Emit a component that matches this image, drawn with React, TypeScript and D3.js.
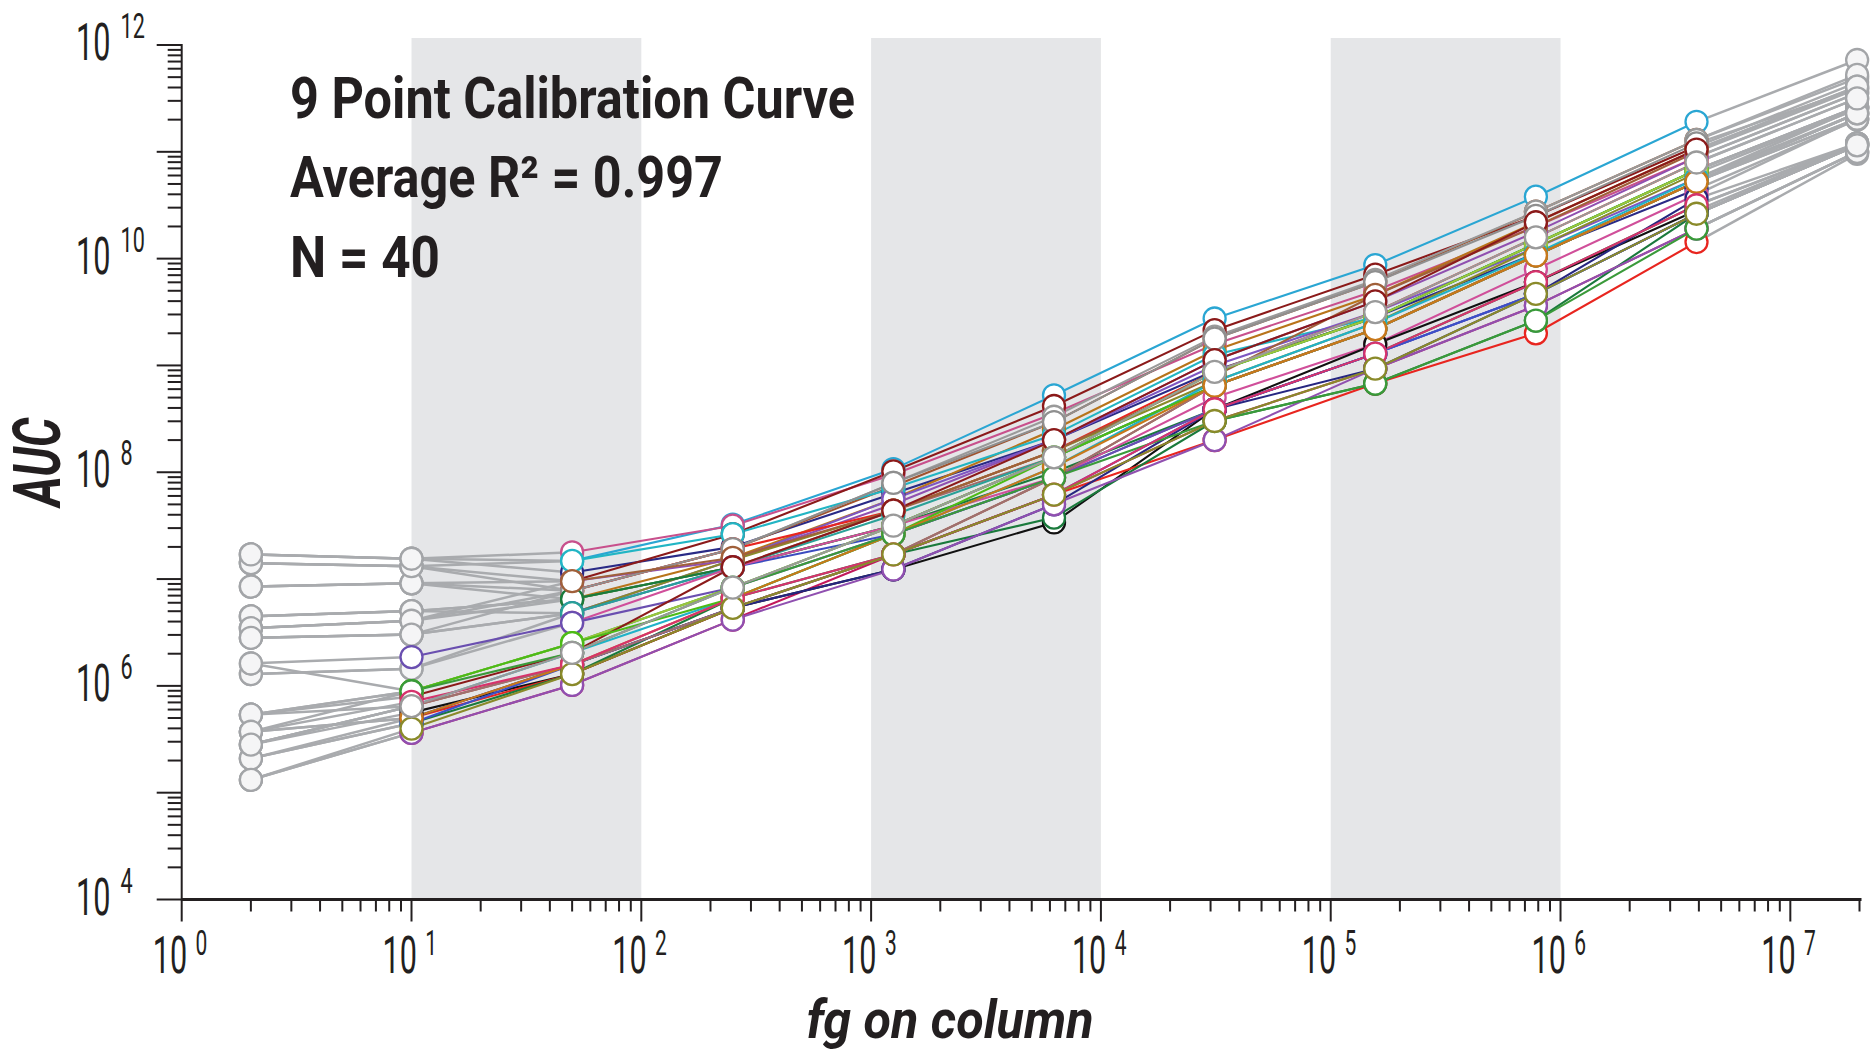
import React from 'react';
import * as d3 from 'd3';

// Concentrations (fg on column) of the 11 dilution points
const fgOnColumn = [2, 10, 50, 250, 1250, 6250, 31250, 156250, 781250, 3906250, 19531250];

// Index of the last point used in the calibration (coloured); later points are grey
const lastCalibrationIndex = 9;

// Peptides with a high background: first two points grey, calibrated from 50 fg
const highBackgroundSeries: number[][] = [
  [1.41e7, 1.32e7, 1.48e7, 3.24e7, 1.07e8, 5.25e8, 2.75e9, 8.71e9, 3.80e10, 1.91e11, 7.24e11],
  [1.70e7, 1.55e7, 1.78e7, 3.16e7, 9.55e7, 3.55e8, 1.58e9, 5.01e9, 2.0e10, 8.91e10, 3.55e11],
  [1.70e7, 1.55e7, 1.15e7, 2.0e7, 6.31e7, 2.0e8, 8.91e8, 2.82e9, 1.12e10, 4.47e10, 2.0e11],
  [8.51e6, 9.12e6, 9.55e6, 2.63e7, 1.02e8, 4.17e8, 2.14e9, 7.08e9, 2.51e10, 1.12e11, 4.47e11],
  [8.51e6, 9.12e6, 7.76e6, 1.91e7, 7.41e7, 2.95e8, 1.78e9, 6.03e9, 2.75e10, 1.29e11, 4.90e11],
  [1.41e7, 1.32e7, 7.76e6, 1.91e7, 7.94e7, 3.31e8, 1.86e9, 6.31e9, 2.75e10, 1.29e11, 5.25e11],
  [8.51e6, 9.12e6, 6.46e6, 1.58e7, 5.62e7, 2.51e8, 1.38e9, 4.57e9, 2.19e10, 1.05e11, 4.07e11],
  [1.41e7, 1.32e7, 9.55e6, 1.51e7, 5.01e7, 2.0e8, 1.12e9, 3.98e9, 1.78e10, 8.91e10, 3.55e11],
  [1.70e7, 1.55e7, 1.48e7, 2.63e7, 7.08e7, 2.24e8, 1.26e9, 2.82e9, 1.38e10, 6.76e10, 2.63e11],
  [4.47e6, 5.01e6, 6.46e6, 1.29e7, 4.37e7, 1.38e8, 6.46e8, 2.19e9, 1.07e10, 5.25e10, 2.29e11],
  [4.47e6, 5.01e6, 4.79e6, 1.51e7, 5.62e7, 2.0e8, 1.0e9, 3.16e9, 1.26e10, 5.62e10, 2.57e11],
  [3.47e6, 4.07e6, 7.76e6, 1.91e7, 4.37e7, 1.58e8, 8.71e8, 3.16e9, 1.58e10, 7.94e10, 3.16e11],
  [3.47e6, 4.07e6, 6.46e6, 1.29e7, 3.16e7, 1.38e8, 8.71e8, 2.82e9, 1.38e10, 6.76e10, 2.63e11],
  [2.82e6, 3.02e6, 4.79e6, 1.51e7, 4.37e7, 1.58e8, 7.08e8, 2.51e9, 1.26e10, 6.31e10, 2.51e11],
  [2.82e6, 3.02e6, 7.76e6, 1.91e7, 7.94e7, 2.95e8, 1.78e9, 6.03e9, 2.51e10, 1.20e11, 3.89e11],
  [4.47e6, 5.01e6, 6.46e6, 1.29e7, 3.16e7, 1.0e8, 3.89e8, 1.29e9, 6.03e9, 3.16e10, 1.20e11],
  [3.47e6, 4.07e6, 9.55e6, 1.58e7, 4.37e7, 1.58e8, 7.94e8, 4.57e9, 2.0e10, 1.0e11, 3.89e11],
  [2.82e6, 3.02e6, 4.79e6, 1.29e7, 2.63e7, 8.91e7, 3.89e8, 1.29e9, 4.68e9, 2.63e10, 1.15e11],
  [1.29e6, 1.45e6, 4.79e6, 1.29e7, 3.98e7, 1.38e8, 6.46e8, 2.19e9, 1.07e10, 5.25e10, 2.29e11],
  [1.29e6, 1.45e6, 3.89e6, 1.29e7, 3.16e7, 8.91e7, 5.01e8, 1.58e9, 7.94e9, 3.98e10, 2.04e11],
];
const highBackgroundColors = [
  '#2aa6d3', '#c8508c', '#2a2a86', '#8b1a1a', '#a0522d', '#9a9a9a', '#b8741a', '#9050b0',
  '#22b5c4', '#a06a6a', '#7e57c2', '#e8251f', '#2ca02c', '#8a8a2a', '#8f8f8f', '#1a7a3c',
  '#a0603a', '#3b4cc0', '#2aa198', '#d04f9a',
];

// Peptides with a low background: only the first point grey, calibrated from 10 fg
const lowBackgroundSeries: number[][] = [
  [1.62e6, 1.86e6, 3.89e6, 8.32e6, 2.63e7, 8.91e7, 3.89e8, 1.29e9, 4.68e9, 2.63e10, 1.15e11],
  [1.62e6, 8.91e5, 2.51e6, 8.32e6, 3.16e7, 1.38e8, 8.71e8, 2.82e9, 1.38e10, 6.76e10, 2.63e11],
  [5.37e5, 6.46e5, 1.58e6, 5.37e6, 1.70e7, 8.91e7, 6.46e8, 2.19e9, 1.07e10, 5.25e10, 2.04e11],
  [1.32e5, 3.63e5, 1.02e6, 4.17e6, 1.70e7, 6.17e7, 3.02e8, 9.33e8, 3.63e9, 1.91e10, 1.0e11],
  [2.82e5, 5.62e5, 1.29e6, 5.37e6, 1.23e7, 3.39e7, 3.89e8, 1.58e9, 6.03e9, 2.82e10, 1.20e11],
  [3.72e5, 5.01e5, 1.29e6, 5.37e6, 1.70e7, 6.17e7, 2.0e8, 6.76e8, 2.0e9, 1.43e10, 9.55e10],
  [2.09e5, 4.47e5, 1.29e6, 6.61e6, 1.70e7, 3.76e7, 3.02e8, 6.76e8, 2.63e9, 2.63e10, 1.15e11],
  [3.72e5, 5.01e5, 1.58e6, 5.37e6, 1.23e7, 5.01e7, 3.89e8, 9.33e8, 4.68e9, 3.63e10, 1.20e11],
  [5.37e5, 8.91e5, 2.51e6, 8.32e6, 3.16e7, 1.38e8, 8.71e8, 2.82e9, 1.38e10, 6.76e10, 2.57e11],
  [2.82e5, 6.46e5, 2.04e6, 6.61e6, 2.63e7, 1.12e8, 7.08e8, 2.51e9, 1.12e10, 5.62e10, 2.29e11],
  [5.37e5, 7.94e5, 2.04e6, 1.29e7, 4.37e7, 2.0e8, 1.12e9, 3.98e9, 2.19e10, 1.05e11, 4.07e11],
  [2.09e5, 4.47e5, 1.58e6, 5.37e6, 1.70e7, 6.17e7, 3.89e8, 1.29e9, 4.68e9, 2.63e10, 1.15e11],
  [3.72e5, 8.91e5, 2.51e6, 6.61e6, 2.63e7, 1.38e8, 6.46e8, 2.19e9, 1.07e10, 5.25e10, 2.04e11],
  [2.82e5, 6.46e5, 1.58e6, 5.37e6, 1.70e7, 8.91e7, 6.46e8, 2.19e9, 1.07e10, 5.25e10, 2.29e11],
  [1.32e5, 3.63e5, 1.02e6, 4.17e6, 1.23e7, 5.01e7, 2.0e8, 9.33e8, 3.63e9, 1.91e10, 1.0e11],
  [2.09e5, 5.01e5, 1.58e6, 6.61e6, 2.63e7, 1.12e8, 6.46e8, 2.19e9, 1.07e10, 5.25e10, 2.29e11],
  [5.37e5, 8.91e5, 2.04e6, 8.32e6, 2.63e7, 8.91e7, 3.02e8, 6.76e8, 2.63e9, 1.91e10, 1.0e11],
  [3.72e5, 7.08e5, 1.58e6, 6.61e6, 1.70e7, 6.17e7, 3.89e8, 1.29e9, 6.03e9, 3.16e10, 1.20e11],
  [1.32e5, 3.98e5, 1.29e6, 5.37e6, 1.70e7, 6.17e7, 3.02e8, 9.33e8, 4.68e9, 2.63e10, 1.15e11],
  [2.82e5, 6.46e5, 2.04e6, 8.32e6, 3.16e7, 1.38e8, 8.71e8, 3.16e9, 1.58e10, 7.94e10, 3.16e11],
];
const lowBackgroundColors = [
  '#6a4fb0', '#2ca02c', '#a0522d', '#c2185b', '#111111', '#e8251f', '#1a7a3c', '#262680',
  '#9bc53d', '#20b2c8', '#8b1a1a', '#3b50c8', '#4cbb17', '#a07070', '#9050b0', '#c8781a',
  '#3a9a3a', '#d6336c', '#8a8a2a', '#9a9a9a',
];

// Shaded decades
const shadedDecades: [number, number][] = [[10, 100], [1e3, 1e4], [1e5, 1e6]];

// Tick labels
const xTickExponents = ['0', '1', '2', '3', '4', '5', '6', '7'];
const yLabelledDecades = [1e4, 1e6, 1e8, 1e10, 1e12];
const yTickExponents = ['4', '6', '8', '10', '12'];

// Text
const annotationLines = ['9 Point Calibration Curve', 'Average R\u00B2 = 0.997', 'N = 40'];
const xTitle = 'fg on column';
const yTitle = 'AUC';

const INK = '#231f20';
const GREY_LINE = '#a9abae';
const GREY_STROKE = '#a3a5a8';

export default function App() {
  const W = 1874;
  const H = 1062;
  const x = d3.scaleLog().domain([1, 2e7]).range([181.7, 1859.5]);
  const y = d3.scaleLog().domain([1e4, 1e12]).range([899.5, 45]);
  const axisY = y(1e4);
  const axisX = x(1);

  const series = [
    ...highBackgroundSeries.map((v, i) => ({ values: v, color: highBackgroundColors[i], from: 2 })),
    ...lowBackgroundSeries.map((v, i) => ({ values: v, color: lowBackgroundColors[i], from: 1 })),
  ];

  const line = d3
    .line<[number, number]>()
    .x((d) => x(d[0]))
    .y((d) => y(d[1]));
  const pts = (vals: number[], a: number, b: number): [number, number][] =>
    fgOnColumn.slice(a, b + 1).map((f, j) => [f, vals[a + j]]);

  const isMajor = (v: number) => Math.abs(Math.log10(v) - Math.round(Math.log10(v))) < 1e-9;
  const xTicks = x.ticks(20).filter((v) => v <= 2e7 + 1);
  const yTicks = y.ticks(20);
  const xMajors = xTicks.filter(isMajor);

  const tickFont = "Roboto, 'Open Sans', 'Liberation Sans', sans-serif";
  const boldFont = "Roboto, 'Open Sans', 'Liberation Sans', sans-serif";
  const R = 11;

  return (
    <div style={{ position: 'absolute', left: 0, top: 0, width: W, height: H, background: '#fff' }}>
      <svg width={W} height={H} viewBox={`0 0 ${W} ${H}`} style={{ display: 'block' }}>
        <rect x={0} y={0} width={W} height={H} fill="#ffffff" />
        {/* shaded decades */}
        {shadedDecades.map(([a, b], i) => (
          <rect key={`band${i}`} x={x(a)} y={38} width={x(b) - x(a)} height={axisY - 38} fill="#e5e6e8" />
        ))}

        {/* grey (non-calibration) segments */}
        <g fill="none" stroke={GREY_LINE} strokeWidth={2.5}>
          {series.map((s, i) => (
            <path key={`gl0-${i}`} d={line(pts(s.values, 0, s.from)) || ''} />
          ))}
          {series.map((s, i) => (
            <path key={`gl1-${i}`} d={line(pts(s.values, lastCalibrationIndex, fgOnColumn.length - 1)) || ''} />
          ))}
        </g>
        <g fill="#f5f5f6" stroke={GREY_STROKE} strokeWidth={2.3}>
          {series.map((s, i) =>
            s.values.map((v, j) =>
              j < s.from || j > lastCalibrationIndex ? (
                <circle key={`gc-${i}-${j}`} cx={x(fgOnColumn[j])} cy={y(v)} r={R} />
              ) : null
            )
          )}
        </g>

        {/* coloured calibration segments */}
        <g fill="none" strokeWidth={2.1}>
          {series.map((s, i) => (
            <path key={`cl-${i}`} d={line(pts(s.values, s.from, lastCalibrationIndex)) || ''} stroke={s.color} />
          ))}
        </g>
        <g fill="#ffffff" strokeWidth={2.3}>
          {series.map((s, i) =>
            s.values.map((v, j) =>
              j >= s.from && j <= lastCalibrationIndex ? (
                <circle key={`cc-${i}-${j}`} cx={x(fgOnColumn[j])} cy={y(v)} r={R} stroke={s.color} />
              ) : null
            )
          )}
        </g>

        {/* axes */}
        <g stroke={INK} strokeWidth={2}>
          <line x1={axisX} x2={axisX} y1={y(1e12) - 1} y2={axisY + 1} />
          <line x1={axisX} x2={x(2e7) + 2} y1={axisY} y2={axisY} strokeWidth={3} />
          {xTicks.map((v, i) => (
            <line key={`xt${i}`} x1={x(v)} x2={x(v)} y1={axisY} y2={axisY + (isMajor(v) ? 22 : 12)} />
          ))}
          {yTicks.map((v, i) => (
            <line key={`yt${i}`} x1={axisX} x2={axisX - (isMajor(v) ? 25 : 14)} y1={y(v)} y2={y(v)} />
          ))}
        </g>

        {/* x tick labels: 10^k, condensed */}
        <g fill={INK} fontFamily={tickFont} fontWeight={400}>
          {xMajors.map((v, i) => (
            <text key={`xl${i}`} transform={`translate(${x(v) - 29},973) scale(0.6,1)`} fontSize={51}>
              10
              <tspan dx={14} dy={-18} fontSize={35}>
                {xTickExponents[i]}
              </tspan>
            </text>
          ))}
        </g>

        {/* y tick labels */}
        <g fill={INK} fontFamily={tickFont} fontWeight={400}>
          {yLabelledDecades.map((v, i) => (
            <text key={`yl${i}`} transform={`translate(76,${y(v) + 15}) scale(0.6,1)`} fontSize={51}>
              10
              <tspan dx={17} dy={-22} fontSize={36}>
                {yTickExponents[i]}
              </tspan>
            </text>
          ))}
        </g>

        {/* axis titles */}
        <text
          x={950}
          y={1038}
          textAnchor="middle"
          fontFamily={boldFont}
          fontWeight={700}
          fontStyle="italic"
          fontSize={54}
          fill={INK}
          textLength={287}
          lengthAdjust="spacingAndGlyphs"
        >
          {xTitle}
        </text>
        <text
          transform="translate(60,462) rotate(-90)"
          textAnchor="middle"
          fontFamily={boldFont}
          fontWeight={700}
          fontStyle="italic"
          fontSize={66}
          fill={INK}
          textLength={89}
          lengthAdjust="spacingAndGlyphs"
        >
          {yTitle}
        </text>

        {/* annotation */}
        <g fill={INK} fontFamily={boldFont} fontWeight={700}>
          <text x={290} y={118} fontSize={58} textLength={565} lengthAdjust="spacingAndGlyphs">
            {annotationLines[0]}
          </text>
          <text x={290} y={197} fontSize={58} textLength={433} lengthAdjust="spacingAndGlyphs">
            {annotationLines[1]}
          </text>
          <text x={290} y={277} fontSize={58} textLength={150} lengthAdjust="spacingAndGlyphs">
            {annotationLines[2]}
          </text>
        </g>
      </svg>
    </div>
  );
}
